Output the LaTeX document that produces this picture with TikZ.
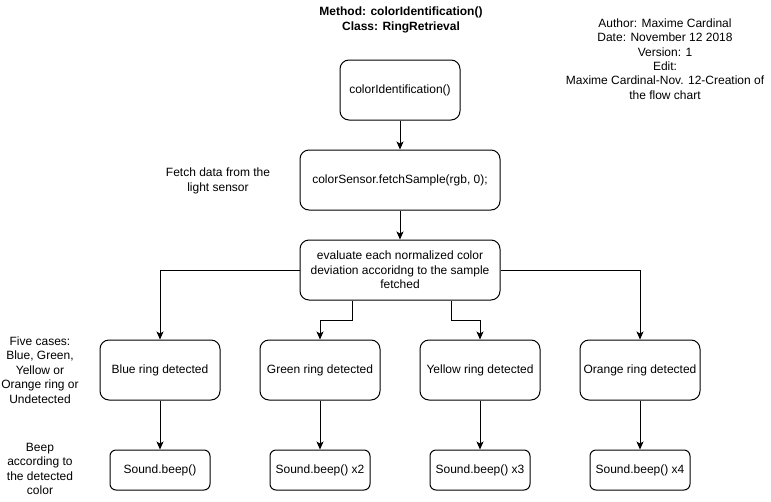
\documentclass[tikz,border=0pt]{standalone}
\usepackage{fontspec}
\setmainfont{Liberation Sans}
\usetikzlibrary{arrows.meta,calc}
\begin{document}
\begin{tikzpicture}[x=1pt,y=-1pt,
  every node/.style={font=\fontsize{12}{14.4}\selectfont, align=center, inner sep=0pt},
  bigbox/.style={draw, line width=1pt, rounded corners=9pt, minimum height=60pt},
  smallbox/.style={draw, line width=1pt, rounded corners=6pt, minimum width=100pt, minimum height=40pt},
  plain/.style={},
  arr/.style={line width=1pt, -{Stealth[length=8pt,width=7pt,inset=2pt]}}
]
\useasboundingbox (0,0) rectangle (771,501);
\fill[white] (0,0) rectangle (771,501);

\node[plain, font=\bfseries\fontsize{12}{14.4}\selectfont] (title) at (401,20) {Method: colorIdentification()\\Class: RingRetrieval};
\node[plain] (author) at (665,59) {Author: Maxime Cardinal\\Date: November 12 2018\\Version: 1\\Edit:\\Maxime Cardinal-Nov. 12-Creation of\\the flow chart};

\node[bigbox, minimum width=120pt] (top) at (400,90) {colorIdentification()};
\node[bigbox, minimum width=200pt] (fetch) at (400,180) {colorSensor.fetchSample(rgb, 0);};
\node[plain] (fetchtxt) at (218,181) {Fetch data from the\\light sensor};
\node[bigbox, minimum width=200pt] (eval) at (400,270) {evaluate each normalized color\\deviation accoridng to the sample\\fetched};

\node[bigbox, minimum width=120pt] (blue) at (160,370) {Blue ring detected};
\node[bigbox, minimum width=120pt] (green) at (320,370) {Green ring detected};
\node[bigbox, minimum width=120pt] (yellow) at (480,370) {Yellow ring detected};
\node[bigbox, minimum width=120pt] (orange) at (640,370) {Orange ring detected};

\node[smallbox] (s1) at (160,470) {Sound.beep()};
\node[smallbox] (s2) at (320,470) {Sound.beep() x2};
\node[smallbox] (s3) at (480,470) {Sound.beep() x3};
\node[smallbox] (s4) at (640,470) {Sound.beep() x4};

\node[plain] (cases) at (40,370) {Five cases:\\Blue, Green,\\Yellow or\\Orange ring or\\Undetected};
\node[plain] (beep) at (40,469) {Beep\\according to\\the detected\\color};

\draw[arr] (top.south) -- (fetch.north);
\draw[arr] (fetch.south) -- (eval.north);
\draw[arr] (eval.west) -| (blue.north);
\draw[arr] (eval.east) -| (orange.north);
\path (eval.south) ++(-48,0) coordinate (gs);
\path (eval.south) ++(51,0) coordinate (ys);
\draw[arr] (gs) -- ++(0,20) -| (green.north);
\draw[arr] (ys) -- ++(0,20) -| (yellow.north);
\draw[arr] (blue.south) -- (s1.north);
\draw[arr] (green.south) -- (s2.north);
\draw[arr] (yellow.south) -- (s3.north);
\draw[arr] (orange.south) -- (s4.north);
\end{tikzpicture}
\end{document}
